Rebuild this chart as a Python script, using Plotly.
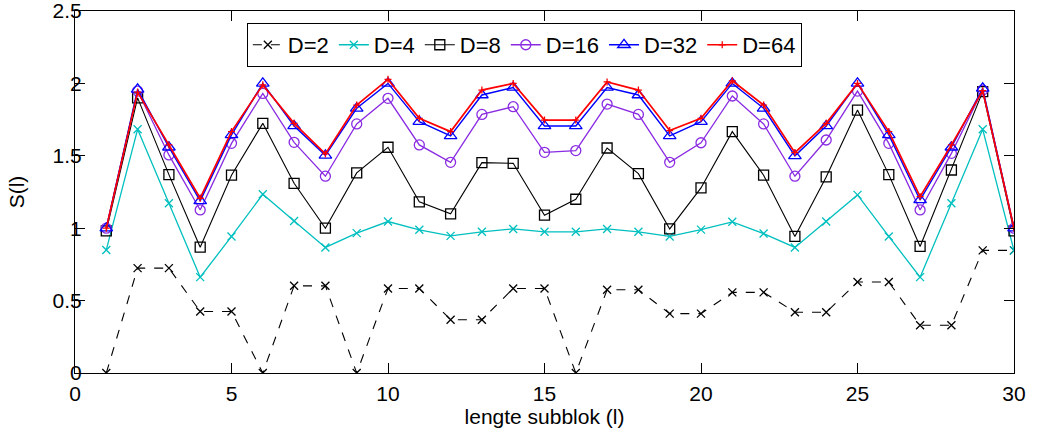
import plotly.graph_objects as go

# Subblock length l = 1..30
lengths = list(range(1, 31))

s_d2 = [0.0, 0.724, 0.724, 0.425, 0.425, 0.0, 0.602, 0.602, 0.0, 0.584,
        0.584, 0.368, 0.368, 0.584, 0.584, 0.0, 0.575, 0.575, 0.41, 0.41,
        0.557, 0.557, 0.42, 0.42, 0.628, 0.628, 0.33, 0.33, 0.847, 0.847]
s_d4 = [0.85, 1.683, 1.172, 0.662, 0.943, 1.234, 1.05, 0.867, 0.966, 1.046,
        0.989, 0.947, 0.975, 0.995, 0.975, 0.975, 0.995, 0.975, 0.943, 0.99,
        1.044, 0.963, 0.867, 1.046, 1.23, 0.943, 0.662, 1.172, 1.683, 0.845]
s_d8 = [0.982, 1.90, 1.37, 0.869, 1.366, 1.724, 1.31, 1.0, 1.382, 1.559,
        1.182, 1.099, 1.453, 1.448, 1.09, 1.2, 1.554, 1.377, 0.995, 1.278,
        1.667, 1.366, 0.943, 1.354, 1.816, 1.37, 0.874, 1.402, 1.943, 0.982]
s_d16 = [1.0, 1.947, 1.506, 1.126, 1.586, 1.931, 1.593, 1.359, 1.72, 1.897,
         1.575, 1.455, 1.786, 1.839, 1.524, 1.536, 1.857, 1.786, 1.455, 1.59,
         1.913, 1.72, 1.359, 1.609, 1.947, 1.586, 1.126, 1.517, 1.954, 1.0]
s_d32 = [1.0, 1.959, 1.559, 1.189, 1.644, 2.0, 1.706, 1.503, 1.828, 2.0,
         1.736, 1.637, 1.92, 1.972, 1.706, 1.706, 1.972, 1.92, 1.637, 1.736,
         2.0, 1.828, 1.5, 1.706, 2.0, 1.644, 1.195, 1.559, 1.966, 1.0]
s_d64 = [1.0, 1.94, 1.575, 1.207, 1.667, 1.99, 1.724, 1.513, 1.85, 2.028,
         1.759, 1.667, 1.954, 2.0, 1.747, 1.747, 2.01, 1.954, 1.674, 1.759,
         2.018, 1.85, 1.522, 1.724, 2.0, 1.667, 1.218, 1.575, 1.95, 1.0]

x_ticks = [0, 5, 10, 15, 20, 25, 30]
y_ticks = [0, 0.5, 1, 1.5, 2, 2.5]
y_tick_text = ["0", "0.5", "1", "1.5", "2", "2.5"]

FONT = "Liberation Sans, Arial, sans-serif"

series = [
    ("D=2", s_d2, "#000000", "x-thin-open", 8, "dash", 1.1),
    ("D=4", s_d4, "#00BFBF", "x-thin-open", 8, "solid", 1.3),
    ("D=8", s_d8, "#000000", "square-open", 10, "solid", 1.1),
    ("D=16", s_d16, "#8A2BE2", "circle-open", 10, "solid", 1.3),
    ("D=32", s_d32, "#0000FF", "triangle-up-open", 11, "solid", 1.4),
    ("D=64", s_d64, "#FF0000", "cross-thin-open", 5, "solid", 1.7),
]

fig = go.Figure()
for name, vals, color, symbol, size, dash, width in series:
    fig.add_trace(go.Scatter(
        x=lengths, y=vals, name=name, mode="lines+markers",
        line=dict(color=color, width=width, dash=dash),
        marker=dict(symbol=symbol, size=size, color=color,
                    line=dict(color=color, width=1.3)),
    ))

axis_common = dict(
    showline=True, linecolor="#000000", linewidth=1, mirror="allticks",
    ticks="inside", ticklen=10, tickwidth=1, tickcolor="#000000",
    showgrid=False, zeroline=False, automargin=False,
    ticklabeloverflow="allow",
    tickfont=dict(family=FONT, size=21, color="#000000"),
)

fig.update_xaxes(range=[0, 30], tickvals=x_ticks,
                 ticklabelstandoff=2,
                 title=dict(text="lengte subblok (l)", standoff=0,
                            font=dict(family=FONT, size=21, color="#000000")),
                 **axis_common)
fig.update_yaxes(range=[0, 2.5], tickvals=y_ticks, ticktext=y_tick_text,
                 ticklabelstandoff=-12,
                 title=dict(text="S(l)", standoff=22,
                            font=dict(family=FONT, size=21, color="#000000")),
                 **axis_common)

fig.update_layout(
    width=1041, height=432,
    margin=dict(l=75, r=27, t=11, b=59),
    paper_bgcolor="#FFFFFF", plot_bgcolor="#FFFFFF",
    font=dict(family=FONT, size=21, color="#000000"),
    showlegend=True,
    legend=dict(
        orientation="h", x=0.183, y=0.967, xanchor="left", yanchor="top",
        bordercolor="#000000", borderwidth=1, bgcolor="#FFFFFF",
        font=dict(family=FONT, size=22, color="#000000"),
        itemwidth=30, tracegroupgap=0,
    ),
)

fig.write_html("out.html")
